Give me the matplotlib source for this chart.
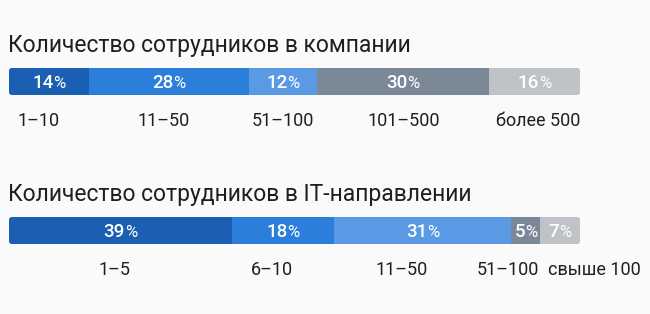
import matplotlib.pyplot as plt
from matplotlib.patches import FancyBboxPatch

plt.rcParams['font.family'] = ['Roboto', 'DejaVu Sans']

# данные
title_company = 'Количество сотрудников в компании'
company_labels = ['1–10', '11–50', '51–100', '101–500', 'более 500']
company_values = [14, 28, 12, 30, 16]

title_it = 'Количество сотрудников в IT-направлении'
it_labels = ['1–5', '6–10', '11–50', '51–100', 'свыше 100']
it_values = [39, 18, 31, 5, 7]

colors = ['#1a5fb2', '#2b7fdb', '#5a9ae4', '#7b8897', '#bfc3c7']
bg = '#fafafa'
txt = '#1f1f1f'

W, H = 650, 314
fig = plt.figure(figsize=(W / 100, H / 100), dpi=100)
fig.patch.set_facecolor(bg)
renderer = fig.canvas.get_renderer()


def draw_bar(top, title, labels, values, label_dx):
    # top - верхний край полосы в пикселях
    ax = fig.add_axes([9 / W, 1 - (top + 27) / H, 571 / W, 27 / H])
    ax.set_xlim(0, 100)
    ax.set_ylim(0, 1)
    ax.axis('off')

    # скругление концов полосы
    clip = FancyBboxPatch((0, 0), 1, 1, boxstyle='round,pad=0,rounding_size=0.005',
                          mutation_aspect=571 / 27, transform=ax.transAxes,
                          facecolor='none', edgecolor='none')
    ax.add_patch(clip)

    left = 0
    for i in range(len(values)):
        v = values[i]
        bars = ax.barh(0.5, v, left=left, height=1, color=colors[i], linewidth=0)
        bars[0].set_clip_path(clip)
        cx = left + v / 2

        # число + знак процента поменьше
        t1 = ax.annotate(str(v), xy=(cx, 0.5), xytext=(0, -6), textcoords='offset pixels',
                         ha='left', va='baseline', color='white', fontsize=13.5, fontweight='medium')
        t2 = ax.annotate('%', xy=(cx, 0.5), xytext=(0, -6), textcoords='offset pixels',
                         ha='left', va='baseline', color='white', fontsize=12)
        w1 = t1.get_window_extent(renderer).width
        w2 = t2.get_window_extent(renderer).width
        start = -(w1 + w2) / 2
        t1.xyann = (start, -6)
        t2.xyann = (start + w1, -6)

        ax.annotate(labels[i], xy=(cx, 0), xycoords=('data', 'axes fraction'),
                    xytext=(label_dx[i], -31), textcoords='offset pixels',
                    ha='center', va='baseline', color=txt, fontsize=13)
        left += v

    ax.annotate(title, xy=(0, 1), xycoords='axes fraction', xytext=(-1, 16),
                textcoords='offset pixels', ha='left', va='baseline',
                color=txt, fontsize=16.5)


draw_bar(68, title_company, company_labels, company_values, [-10, -5, 0, 1, 4])
draw_bar(217, title_it, it_labels, it_values, [-6, -11, -21, -18, 34])

fig.savefig('out.png', dpi=100, facecolor=bg)
